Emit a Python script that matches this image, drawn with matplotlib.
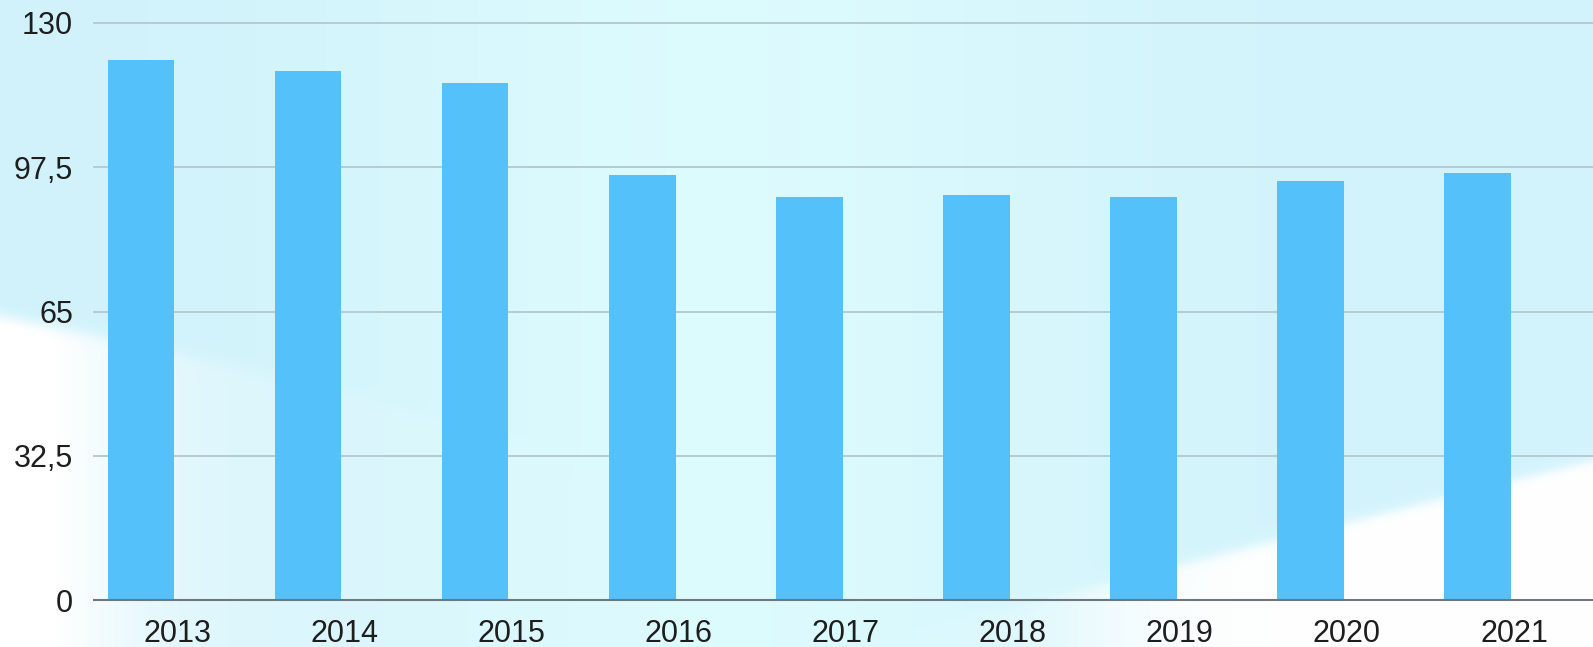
import numpy as np
import matplotlib
matplotlib.use("Agg")
import matplotlib.pyplot as plt
from matplotlib.ticker import FixedLocator, FuncFormatter

plt.rcParams['font.family'] = ['Liberation Sans', 'DejaVu Sans']

# data
years = ["2013", "2014", "2015", "2016", "2017", "2018", "2019", "2020", "2021"]
values = [121.7, 119.1, 116.4, 95.8, 90.9, 91.3, 90.9, 94.3, 96.3]
y_ticks = [0, 32.5, 65, 97.5, 130]

W, H, DPI = 1593, 647, 100
fig = plt.figure(figsize=(W / DPI, H / DPI), dpi=DPI)

# soft cyan backdrop with white sweeps
yy, xx = np.mgrid[0:H, 0:W].astype(float)
base_l = np.array([0.82, 0.95, 0.985])
base_c = np.array([0.865, 0.985, 0.995])
base_r = np.array([0.83, 0.955, 0.99])
t = xx / W
wc = np.exp(-((t - 0.45) / 0.22) ** 2)
img = (base_l[None, None, :] * (1 - t)[..., None] + base_r[None, None, :] * t[..., None])
img = img * (1 - wc[..., None]) + base_c[None, None, :] * wc[..., None]

def smooth(v, w):
    return 1 / (1 + np.exp(-v / w))

# lower-left white sweep, fading out to the right
bl = 317 + 0.18 * xx + 0.00012 * xx ** 2
below = smooth(yy - bl, 4)
m1 = below * (0.85 * np.exp(-(xx / 130) ** 2) + 0.3 * np.exp(-(xx / 380) ** 2))
# lower-right white sweep
br = 610 - (xx - 1000) * (150 / 593)
m2 = smooth(yy - br, 3) * smooth(xx - 1080, 50)
mask = np.clip(np.maximum(m1, m2), 0, 1)
img = img * (1 - mask[..., None]) + np.ones(3)[None, None, :] * mask[..., None]

bg = fig.add_axes([0, 0, 1, 1], zorder=-10)
bg.imshow(img, aspect="auto", extent=(0, W, H, 0), interpolation="bilinear")
bg.set_axis_off()

ax = fig.add_axes([94 / W, (H - 600) / H, 1 - 94 / W, (600 - 23) / H])
ax.patch.set_alpha(0)
x = np.arange(len(years))
# bars sit in the left part of each category band, labels at band centres
ax.bar(x - 0.219, values, width=0.40, color="#54C1FB", zorder=3)

ax.set_xlim(-0.5, len(years) - 0.527)
ax.set_ylim(0, 130)
ax.yaxis.set_major_locator(FixedLocator(y_ticks))
ax.yaxis.set_major_formatter(FuncFormatter(lambda v, p: f"{v:g}".replace(".", ",")))
ax.set_xticks(x)
ax.set_xticklabels(years)

for v in y_ticks[1:]:
    ax.axhline(v, color="#b6cbd1", lw=1.4, zorder=1, clip_on=False)
for s in ["top", "right", "left"]:
    ax.spines[s].set_visible(False)
ax.spines["bottom"].set_color("#6e777c")
ax.spines["bottom"].set_linewidth(1.5)
ax.spines["bottom"].set_zorder(4)

ax.tick_params(axis="both", length=0, labelsize=22, labelcolor="#1e1e1e")
ax.tick_params(axis="y", pad=15)
ax.tick_params(axis="x", pad=13.5)

fig.savefig("out.png", dpi=DPI)
